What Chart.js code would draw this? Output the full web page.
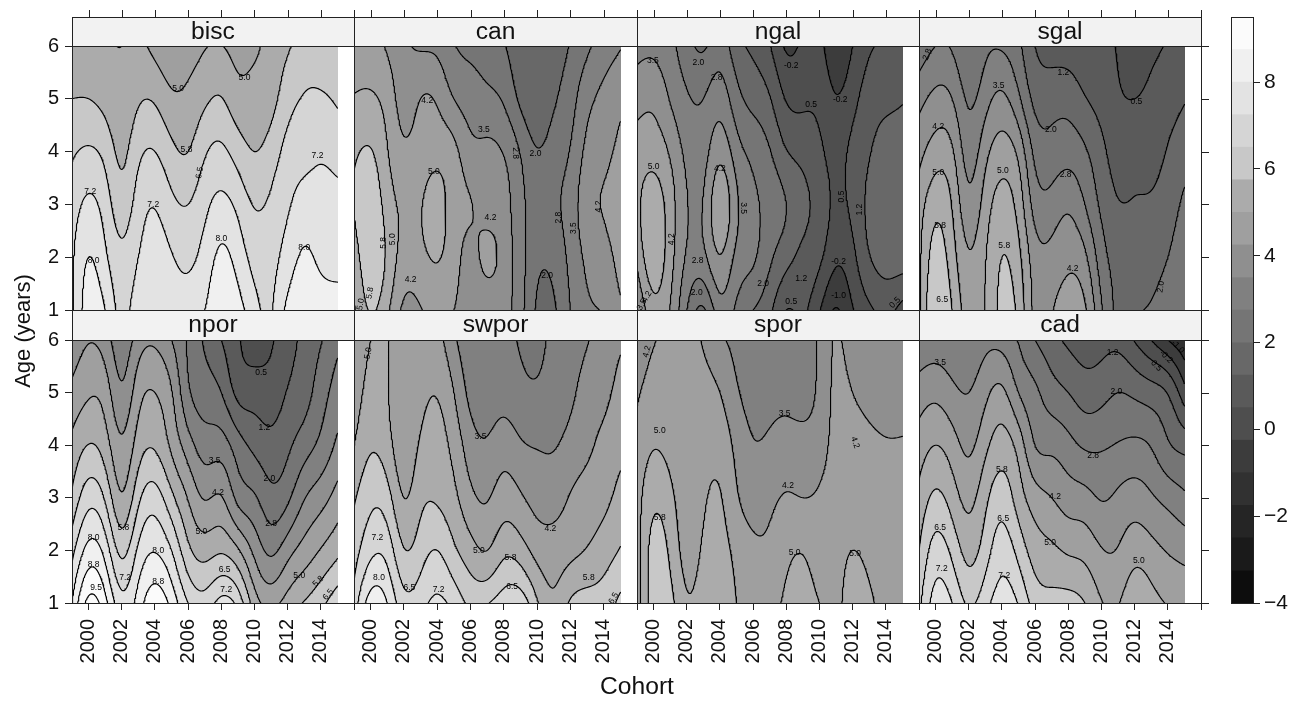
<!DOCTYPE html>
<html><head><meta charset="utf-8">
<script src="https://cdn.jsdelivr.net/npm/chart.js@4/dist/chart.umd.min.js"></script>
<style>html,body{margin:0;padding:0;background:#fff;overflow:hidden}canvas{position:absolute;left:0;top:0}</style>
</head><body>
<script>
const cohorts=[1999,2000,2001,2002,2003,2004,2005,2006,2007,2008,2009,2010,2011,2012,2013,2014,2015];
const ages=[1,2,3,4,5,6];
const levels=[-4,-3.25,-2.5,-1.75,-1,-0.25,0.5,1.25,2,2.75,3.5,4.25,5,5.75,6.5,7.25,8,8.75,9.5];
const bandGrays=[13,26,37,49,60,78,90,104,117,128,143,159,171,200,213,227,240,251];
const xTickLabels=[2000,2002,2004,2006,2008,2010,2012,2014];
const yTickLabels=[1,2,3,4,5,6];
const barTickLabels=[-4,-2,0,2,4,6,8];
const panelNames=["bisc","can","ngal","sgal","npor","swpor","spor","cad"];
// one row per cohort, values at ages 1..6
const bisc=[[7.15,7.1,6.85,6.4,5.75,5.05],[8.35,8.0,7.4,6.6,5.75,5.15],[8.0,7.4,6.9,6.25,5.5,5.1],[7.05,6.7,6.1,5.6,5.25,5.0],[7.7,7.25,6.85,6.3,5.65,5.15],[7.85,7.6,7.2,6.5,5.65,4.75],[7.6,7.3,6.7,5.95,5.15,4.4],[7.6,7.1,6.5,5.75,5.2,4.6],[8.0,7.55,7.05,6.4,5.6,4.95],[8.55,8.15,7.45,6.65,5.78,5.02],[8.3,7.7,7.05,6.15,5.3,4.75],[7.5,7.0,6.45,5.75,5.3,4.85],[7.2,7.0,6.65,6.1,5.5,5.3],[8.2,7.6,7.15,6.75,6.2,5.65],[8.5,8.1,7.55,7.0,6.55,6.1],[8.4,7.85,7.5,7.15,6.6,6.0],[8.35,7.75,7.45,7.0,6.4,5.95]];
const can=[[4.9,5.3,5.8,5.6,5.05,4.6],[5.8,6.3,6.3,5.8,5.1,4.6],[5.15,5.6,5.4,5.05,4.7,4.15],[4.1,4.7,4.85,4.4,3.95,3.65],[4.2,4.8,4.95,4.6,4.25,3.4],[4.55,5.05,5.3,4.75,4.15,3.3],[4.25,4.55,4.6,4.45,3.5,2.8],[3.85,4.05,4.28,3.75,3.15,2.55],[3.6,4.42,3.95,3.65,2.95,2.35],[3.7,3.95,3.8,3.45,2.65,2.05],[3.0,3.05,2.95,2.7,1.85,1.55],[1.9,2.2,2.5,2.05,1.5,1.4],[1.9,2.25,2.6,2.35,1.9,1.6],[2.75,2.95,3.1,2.8,2.45,2.05],[3.4,3.65,3.95,3.7,3.25,2.6],[3.55,3.95,4.3,4.05,3.7,3.1],[4.1,4.55,4.65,4.45,4.05,3.45]];
const ngal=[[3.4,4.4,4.8,4.6,3.95,3.25],[4.7,5.45,5.4,4.7,4.05,3.3],[4.2,4.55,4.6,4.15,3.45,2.95],[2.75,3.4,3.55,3.3,2.85,2.3],[1.9,3.3,3.55,3.2,2.75,1.9],[3.15,4.2,4.75,4.0,3.15,2.35],[2.6,3.3,3.65,3.1,2.3,1.55],[2.0,2.85,2.9,2.55,1.75,1.1],[1.4,2.15,2.5,2.05,1.3,0.55],[0.5,1.5,2.0,1.3,0.45,-0.35],[0.6,1.05,1.45,1.0,0.35,-0.1],[-0.2,0.65,0.95,0.65,0.3,-0.05],[-1.05,-0.1,0.35,0.25,-0.2,-0.8],[-0.3,0.3,0.7,0.7,0.25,-0.25],[0.35,1.2,1.4,1.2,0.85,0.4],[0.7,1.5,1.55,1.55,1.05,0.6],[0.2,1.55,1.6,1.55,1.2,0.75]];
const sgal=[[4.85,4.8,4.6,4.0,3.25,2.2],[6.45,6.05,5.5,4.6,3.7,2.75],[5.75,5.35,4.95,4.35,3.5,2.65],[4.65,4.33,3.75,3.18,2.65,2.05],[5.05,4.95,4.6,4.0,3.2,2.55],[5.95,5.75,5.3,4.6,3.65,2.65],[5.55,5.2,4.7,4.05,2.9,2.15],[4.05,3.85,3.2,2.55,1.8,1.25],[4.2,3.75,3.05,2.3,1.7,0.9],[4.65,4.05,3.35,2.45,1.7,0.85],[4.35,3.65,2.75,2.1,1.3,0.7],[2.85,2.35,1.85,1.45,0.95,0.6],[1.85,1.75,1.3,0.95,0.6,0.45],[1.95,1.8,1.3,1.05,0.5,0.1],[2.05,1.75,1.35,1.0,0.7,0.3],[2.4,2.0,1.65,1.3,0.95,0.55],[2.65,2.45,2.15,1.65,1.2,0.7]];
const npor=[[8.0,7.0,5.9,5.2,4.45,3.75],[9.7,8.25,6.95,5.77,4.9,4.2],[9.0,7.7,6.4,5.35,4.65,3.85],[7.55,6.3,5.1,4.4,3.65,3.05],[8.35,7.4,6.3,5.35,4.7,3.85],[9.25,7.95,6.85,5.65,5.0,4.1],[8.5,7.25,5.95,4.85,4.3,3.5],[7.25,5.95,4.95,3.85,2.9,2.65],[6.85,5.45,4.2,3.15,2.35,1.9],[7.5,5.65,4.3,3.1,2.0,1.25],[7.0,5.1,3.3,2.35,1.05,0.6],[5.4,4.05,2.85,1.8,0.9,0.1],[4.8,3.35,2.25,1.5,0.85,0.4],[5.3,3.95,2.6,1.85,1.3,0.95],[5.8,4.55,3.45,2.4,1.7,1.45],[6.3,5.05,3.95,2.95,2.4,1.95],[7.0,5.55,4.55,3.65,3.1,2.55]];
const swpor=[[6.8,6.15,5.65,5.0,4.6,4.4],[8.35,7.05,6.3,5.65,5.25,5.0],[8.0,6.95,6.05,5.3,5.05,5.05],[6.8,5.8,5.0,4.55,4.45,4.45],[7.0,6.15,5.55,5.1,4.75,4.5],[7.4,6.5,5.65,5.3,4.95,4.5],[7.0,5.9,5.2,4.75,4.25,3.65],[6.35,5.3,4.45,3.85,3.3,3.0],[6.45,5.0,4.2,3.6,3.1,2.9],[6.9,5.55,4.6,3.9,3.2,2.9],[6.95,5.35,4.35,3.6,2.95,2.7],[5.85,4.75,4.0,3.45,2.85,2.65],[5.15,4.6,3.95,3.45,3.05,2.85],[5.85,4.8,4.3,3.75,3.35,3.05],[6.1,5.05,4.55,4.1,3.8,3.45],[6.15,5.4,4.8,4.45,4.05,3.75],[6.7,5.8,5.25,4.8,4.55,4.1]];
const spor=[[4.6,4.65,4.65,4.5,4.15,3.75],[6.1,6.0,5.55,4.95,4.55,4.2],[6.0,5.6,5.2,4.75,4.55,4.4],[5.1,4.75,4.6,4.5,4.4,4.35],[5.35,5.1,4.9,4.7,4.45,4.2],[5.4,5.25,5.05,4.7,4.25,3.65],[5.0,4.8,4.35,4.05,3.6,3.3],[4.65,4.4,3.95,3.55,3.25,3.05],[4.7,4.4,4.1,3.65,3.25,3.05],[5.15,4.8,4.3,3.85,3.25,3.05],[5.3,4.95,4.25,3.8,3.15,2.95],[5.0,4.65,4.35,3.95,3.7,3.65],[4.85,4.75,4.6,4.5,4.4,4.3],[5.3,5.0,4.65,4.55,4.25,3.95],[5.1,4.85,4.6,4.4,4.05,3.85],[4.85,4.8,4.6,4.3,4.0,3.8],[4.8,4.75,4.55,4.3,4.0,3.8]];
const cad=[[6.3,5.75,5.2,4.6,3.85,2.9],[7.55,6.8,5.9,5.0,4.05,3.05],[7.25,6.3,5.4,4.6,3.7,2.95],[6.4,5.5,4.8,4.1,3.5,2.9],[7.0,6.15,5.55,4.8,4.05,3.25],[7.6,6.9,6.15,5.35,4.4,3.2],[7.2,6.25,5.4,4.7,3.5,2.7],[6.2,5.4,4.6,3.5,2.9,2.0],[6.0,5.15,4.25,3.3,2.35,1.5],[6.05,4.9,3.9,3.0,2.0,1.1],[5.75,4.75,3.75,2.65,1.65,0.85],[5.05,4.3,3.45,2.65,1.75,0.95],[4.95,4.3,3.65,2.8,2.0,1.0],[5.6,4.7,3.85,2.9,1.85,0.45],[5.3,4.5,3.6,2.7,1.6,-0.25],[4.95,4.2,3.25,2.1,1.2,-1.0],[4.75,4.0,2.9,1.75,0.05,-1.6]];
const panelValues=[bisc,can,ngal,sgal,npor,swpor,spor,cad];
// contour labels: cohort, age, text, rotation in degrees
const biscNotes=[[2000.3,1.94,"8.0",0],[2000.1,3.25,"7.2",0],[2003.9,3.0,"7.2",0],[2008,2.35,"8.0",0],[2013,2.18,"8.0",0],[2013.8,3.93,"7.2",0],[2006.7,3.6,"6.5",-80],[2005.9,4.03,"5.8",0],[2005.4,5.19,"5.0",0],[2009.4,5.4,"5.0",0]];
const canNotes=[[2003.4,4.96,"4.2",0],[2006.8,4.41,"3.5",0],[2008.7,3.97,"2.8",90],[2009.9,3.96,"2.0",0],[2003.8,3.62,"5.0",0],[2007.2,2.74,"4.2",0],[2000.8,2.27,"5.8",-90],[2001.3,2.34,"5.0",-90],[2002.4,1.57,"4.2",0],[2010.6,1.65,"2.0",0],[2011.3,2.75,"2.8",-90],[2012.2,2.55,"3.5",-90],[2013.7,2.96,"4.2",-90],[1999.96,1.32,"5.8",-80],[1999.4,1.11,"5.0",-80]];
const ngalNotes=[[1999.96,5.72,"3.5",0],[2002.7,5.68,"2.0",0],[2003.8,5.4,"2.8",0],[2008.3,5.62,"-0.2",0],[2011.25,4.99,"-0.2",0],[2009.5,4.88,"0.5",0],[2000,3.72,"5.0",0],[2004,3.67,"4.2",0],[2005.4,2.93,"3.5",90],[2011.35,3.15,"0.5",-90],[2012.4,2.9,"1.2",-90],[2001.1,2.34,"4.2",-90],[2002.65,1.94,"2.8",0],[2002.6,1.33,"2.0",0],[2006.6,1.5,"2.0",0],[2008.9,1.6,"1.2",0],[2011.15,1.92,"-0.2",0],[2011.15,1.28,"-1.0",0],[2008.3,1.15,"0.5",0],[2014.55,1.14,"0.5",-45],[1999.6,1.25,"4.2",-60],[1999.3,1.1,"3.5",-60]];
const sgalNotes=[[1999.5,5.84,"2.8",-70],[2003.8,5.25,"3.5",0],[2000.16,4.47,"4.2",0],[2000.16,3.61,"5.0",0],[2004.06,3.64,"5.0",0],[2000.27,2.6,"5.8",0],[2004.14,2.22,"5.8",0],[2000.4,1.19,"6.5",0],[2007.7,5.49,"1.2",0],[2006.95,4.42,"2.0",0],[2007.84,3.56,"2.8",0],[2012.1,4.94,"0.5",0],[2008.26,1.79,"4.2",0],[2013.58,1.44,"2.0",-80]];
const nporNotes=[[2000.45,1.29,"9.5",0],[2000.3,1.72,"8.8",0],[2000.3,2.24,"8.0",0],[2002.1,2.43,"5.8",0],[2002.2,1.48,"7.2",0],[2004.2,1.99,"8.0",0],[2004.2,1.41,"8.8",0],[2008.2,1.63,"6.5",0],[2008.3,1.25,"7.2",0],[2006.8,2.36,"5.0",0],[2007.6,3.71,"3.5",0],[2007.8,3.1,"4.2",0],[2010.4,5.37,"0.5",0],[2010.6,4.33,"1.2",0],[2010.9,3.36,"2.0",0],[2011,2.5,"2.8",0],[2012.7,1.52,"5.0",0],[2013.85,1.41,"5.8",-45],[2014.45,1.16,"6.5",-50]];
const swporNotes=[[1999.86,5.75,"5.0",-80],[2000.4,2.24,"7.2",0],[2000.5,1.48,"8.0",0],[2002.33,1.3,"6.5",0],[2004.08,1.25,"7.2",0],[2006.5,1.99,"5.0",0],[2006.6,4.16,"3.5",0],[2008.4,1.86,"5.8",0],[2008.5,1.31,"6.5",0],[2010.8,2.41,"4.2",0],[2013.1,1.48,"5.8",0],[2014.6,1.09,"6.5",-60]];
const sporNotes=[[1999.6,5.78,"4.2",-75],[2000.37,4.28,"5.0",0],[2000.37,2.63,"5.8",0],[2007.9,4.6,"3.5",0],[2008.1,3.23,"4.2",0],[2008.5,1.96,"5.0",0],[2012.15,1.93,"5.0",0],[2012.15,4.05,"4.2",70]];
const cadNotes=[[2000.27,5.57,"3.5",0],[2010.67,5.75,"1.2",0],[2010.9,5.02,"2.0",0],[2009.5,3.8,"2.8",0],[2007.2,3.02,"4.2",0],[2004,3.53,"5.8",0],[2006.9,2.15,"5.0",0],[2000.27,2.43,"6.5",0],[2004.08,2.61,"6.5",0],[2000.37,1.65,"7.2",0],[2004.14,1.52,"7.2",0],[2012.25,1.8,"5.0",0],[2013.3,5.51,"0.5",45],[2013.9,5.68,"-0.2",45],[2014.6,5.87,"-1.0",45]];
const panelNotes=[biscNotes,canNotes,ngalNotes,sgalNotes,nporNotes,swporNotes,sporNotes,cadNotes];

const FONT='"Liberation Sans", Arial, sans-serif';
const INK='#222';
const colEdges=[72,354,637,919,1201], rowTop=[46,340], rowBottom=[310,603], stripH=[29,30];
const W=1302,H=702;

function spline(xs,ys){
  const n=xs.length,y2=new Array(n).fill(0),u=new Array(n).fill(0);
  for(let i=1;i<n-1;i++){const s=(xs[i]-xs[i-1])/(xs[i+1]-xs[i-1]),p=s*y2[i-1]+2;y2[i]=(s-1)/p;
    const d=(ys[i+1]-ys[i])/(xs[i+1]-xs[i])-(ys[i]-ys[i-1])/(xs[i]-xs[i-1]);u[i]=(6*d/(xs[i+1]-xs[i-1])-s*u[i-1])/p;}
  for(let k=n-2;k>=0;k--)y2[k]=y2[k]*y2[k+1]+u[k];
  return t=>{let i=Math.min(n-2,Math.max(0,Math.floor(t-xs[0])));const h=xs[i+1]-xs[i],a=(xs[i+1]-t)/h,b=(t-xs[i])/h;
    return a*ys[i]+b*ys[i+1]+((a*a*a-a)*y2[i]+(b*b*b-b)*y2[i+1])*h*h/6;};
}
const NX=241,NY=131;
const fineX=Array.from({length:NX},(_,i)=>1999+16*i/(NX-1)), fineY=Array.from({length:NY},(_,j)=>1+5*j/(NY-1));
function fineGrid(vals){
  const perCol=vals.map(c=>{const f=spline(ages,c);return fineY.map(f);});
  const g=new Float64Array(NX*NY);
  for(let j=0;j<NY;j++){const f=spline(cohorts,perCol.map(c=>c[j]));for(let i=0;i<NX;i++)g[j*NX+i]=f(fineX[i]);}
  return g;
}
function contour(g,lv){
  const pts=new Map(),adj=new Map();
  const pt=(id,x,y)=>{if(!pts.has(id))pts.set(id,{x,y});return id;};
  const hE=(i,j)=>{const a=g[j*NX+i],b=g[j*NX+i+1],t=(lv-a)/(b-a);return pt(2*(j*NX+i),fineX[i]+t*(fineX[i+1]-fineX[i]),fineY[j]);};
  const vE=(i,j)=>{const a=g[j*NX+i],b=g[(j+1)*NX+i],t=(lv-a)/(b-a);return pt(2*(j*NX+i)+1,fineX[i],fineY[j]+t*(fineY[j+1]-fineY[j]));};
  const link=(a,b)=>{(adj.get(a)||adj.set(a,[]).get(a)).push(b);(adj.get(b)||adj.set(b,[]).get(b)).push(a);};
  for(let j=0;j<NY-1;j++)for(let i=0;i<NX-1;i++){
    const a=g[j*NX+i]>=lv,b=g[j*NX+i+1]>=lv,c=g[(j+1)*NX+i+1]>=lv,d=g[(j+1)*NX+i]>=lv;
    const e=[];if(a!==b)e.push(hE(i,j));if(b!==c)e.push(vE(i+1,j));if(c!==d)e.push(hE(i,j+1));if(d!==a)e.push(vE(i,j));
    if(e.length===2)link(e[0],e[1]);else if(e.length===4){link(e[0],e[3]);link(e[1],e[2]);}
  }
  const out=[],seen=new Set();
  const walk=s=>{let cur=s;seen.add(cur);out.push(pts.get(cur));
    for(;;){const nx=(adj.get(cur)||[]).find(n=>!seen.has(n));if(nx===undefined)break;seen.add(nx);out.push(pts.get(nx));cur=nx;}
    const ends=adj.get(s)||[];if(ends.includes(cur)&&cur!==s)out.push(pts.get(s));
    out.push({x:NaN,y:NaN});};
  for(const [id,n] of adj)if(n.length===1&&!seen.has(id))walk(id);
  for(const [id] of adj)if(!seen.has(id))walk(id);
  return out;
}
function bandGray(v){let k=Math.floor((v+4)/0.75);k=Math.max(0,Math.min(bandGrays.length-1,k));return bandGrays[k];}
function wideText(ctx,t,x,y,sx){ctx.save();ctx.translate(x,y);ctx.scale(sx,1);ctx.fillText(t,0,0);ctx.restore();}

panelNames.forEach((name,idx)=>{
  const col=idx%4,row=idx<4?0:1;
  const L=colEdges[col],R=colEdges[col+1],T=rowTop[row],B=rowBottom[row];
  const g=fineGrid(panelValues[idx]);
  const datasets=levels.map(lv=>({data:contour(g,lv),showLine:true,borderColor:'#000',borderWidth:1.15,pointRadius:0,spanGaps:false,borderCapStyle:'round',borderJoinStyle:'round',tension:0})).filter(d=>d.data.length);
  const cv=document.createElement('canvas');cv.width=W;cv.height=H;cv.style.width=W+'px';cv.style.height=H+'px';document.body.appendChild(cv);
  const plug={id:'panel'+idx,
    beforeDatasetsDraw(c){
      const x=c.scales.x,y=c.scales.y,ctx=c.ctx;
      const x0=Math.round(x.getPixelForValue(1999)),x1=Math.round(x.getPixelForValue(2015));
      const y0=Math.round(y.getPixelForValue(6)),y1=Math.round(y.getPixelForValue(1));
      const w=x1-x0+1,h=y1-y0+1,img=ctx.createImageData(w,h);
      for(let py=0;py<h;py++){const ag=y.getValueForPixel(y0+py+0.5),fy=Math.max(0,Math.min(NY-1.001,(ag-1)/5*(NY-1))),j=Math.floor(fy),ty=fy-j;
        for(let px=0;px<w;px++){const co=x.getValueForPixel(x0+px+0.5),fx=Math.max(0,Math.min(NX-1.001,(co-1999)/16*(NX-1))),i=Math.floor(fx),tx=fx-i;
          const v=(g[j*NX+i]*(1-tx)+g[j*NX+i+1]*tx)*(1-ty)+(g[(j+1)*NX+i]*(1-tx)+g[(j+1)*NX+i+1]*tx)*ty;
          const s=bandGray(v),o=(py*w+px)*4;img.data[o]=s;img.data[o+1]=s;img.data[o+2]=s;img.data[o+3]=255;}}
      ctx.putImageData(img,x0,y0);
    },
    afterDatasetsDraw(c){
      const x=c.scales.x,y=c.scales.y,ctx=c.ctx;ctx.save();ctx.fillStyle='#000';ctx.font='8.5px '+FONT;ctx.textAlign='center';ctx.textBaseline='middle';
      panelNotes[idx].forEach(n=>{ctx.save();ctx.translate(x.getPixelForValue(n[0]),y.getPixelForValue(n[1]));ctx.rotate(n[3]*Math.PI/180);ctx.fillText(n[2],0,0);ctx.restore();});
      ctx.restore();
    },
    afterDraw(c){
      const a=c.chartArea,ctx=c.ctx,x=c.scales.x,y=c.scales.y,st=stripH[row];ctx.save();
      ctx.fillStyle='#f2f2f2';ctx.fillRect(a.left,a.top-st,a.right-a.left,st);
      ctx.strokeStyle=INK;ctx.lineWidth=1;
      ctx.strokeRect(a.left+.5,a.top-st+.5,a.right-a.left,st);
      ctx.strokeRect(a.left+.5,a.top+.5,a.right-a.left,a.bottom-a.top);
      ctx.fillStyle='#111';ctx.font='23px '+FONT;ctx.textAlign='center';ctx.textBaseline='middle';
      wideText(ctx,name,(a.left+a.right)/2,a.top-st/2+1,1.07);
      ctx.beginPath();
      if(row===0){xTickLabels.concat([2016]).forEach(t=>{const p=Math.round(x.getPixelForValue(t))+.5;ctx.moveTo(p,a.top-st);ctx.lineTo(p,a.top-st-7);});}
      if(col===3){yTickLabels.forEach(t=>{const p=Math.round(y.getPixelForValue(t))+.5;ctx.moveTo(a.right,p);ctx.lineTo(a.right+8,p);});}
      ctx.stroke();ctx.restore();
    }};
  new Chart(cv,{type:'scatter',data:{datasets},plugins:[plug],options:{
    responsive:false,animation:false,events:[],devicePixelRatio:1,
    layout:{padding:{left:col===0?0:L,right:W-R,top:T,bottom:row===1?0:H-B}},
    plugins:{legend:{display:false},tooltip:{enabled:false},title:{display:false}},
    scales:{
      x:{type:'linear',min:1999,max:2016,display:row===1,
        afterBuildTicks(s){s.ticks=xTickLabels.concat([2016]).map(v=>({value:v}));},
        afterFit(s){if(row===1)s.height=H-B;},
        grid:{drawOnChartArea:false,drawTicks:true,tickLength:7,color:INK},border:{display:false},
        ticks:{autoSkip:false,minRotation:90,maxRotation:90,padding:9,color:'#111',font:{family:FONT,size:20},callback:v=>v===2016?'':String(v)}},
      y:{type:'linear',min:1,max:6,display:col===0,
        afterBuildTicks(s){s.ticks=yTickLabels.map(v=>({value:v}));},
        afterFit(s){if(col===0)s.width=L;},
        grid:{drawOnChartArea:false,drawTicks:true,tickLength:7,color:INK},border:{display:false},
        ticks:{padding:6,color:'#111',font:{family:FONT,size:20},callback:v=>String(v)}}
    }}});
});

// colour key
(function(){
  const cv=document.createElement('canvas');cv.width=W;cv.height=H;cv.style.width=W+'px';cv.style.height=H+'px';document.body.appendChild(cv);
  const datasets=bandGrays.map((s,k)=>({data:[[levels[k],levels[k+1]]],backgroundColor:`rgb(${s},${s},${s})`,borderWidth:0,grouped:false,barPercentage:1,categoryPercentage:1,borderSkipped:false}));
  const plug={id:'key',afterDraw(c){const a=c.chartArea,ctx=c.ctx;ctx.save();ctx.strokeStyle=INK;ctx.lineWidth=1;ctx.strokeRect(a.left+.5,a.top+.5,a.right-a.left,a.bottom-a.top);
    ctx.fillStyle='#111';ctx.font='23px '+FONT;ctx.textAlign='center';ctx.textBaseline='middle';
    wideText(ctx,'Cohort',637,688,1.07);
    ctx.font='22px '+FONT;ctx.translate(24,331);ctx.rotate(-Math.PI/2);ctx.fillText('Age (years)',0,0);ctx.restore();}};
  new Chart(cv,{type:'bar',data:{labels:['key'],datasets},plugins:[plug],options:{
    responsive:false,animation:false,events:[],devicePixelRatio:1,
    layout:{padding:{left:1231,right:0,top:17,bottom:H-603}},
    plugins:{legend:{display:false},tooltip:{enabled:false}},
    scales:{
      x:{display:false,stacked:false},
      y:{type:'linear',position:'right',min:-4,max:9.5,
        afterBuildTicks(s){s.ticks=barTickLabels.map(v=>({value:v}));},
        afterFit(s){s.width=W-1253;},
        grid:{drawOnChartArea:false,drawTicks:true,tickLength:7,color:INK},border:{display:false},
        ticks:{padding:4,color:'#111',font:{family:FONT,size:21},callback:v=>v<0?'\u2212'+Math.abs(v):String(v)}}
    }}});
})();
</script>
</body></html>
